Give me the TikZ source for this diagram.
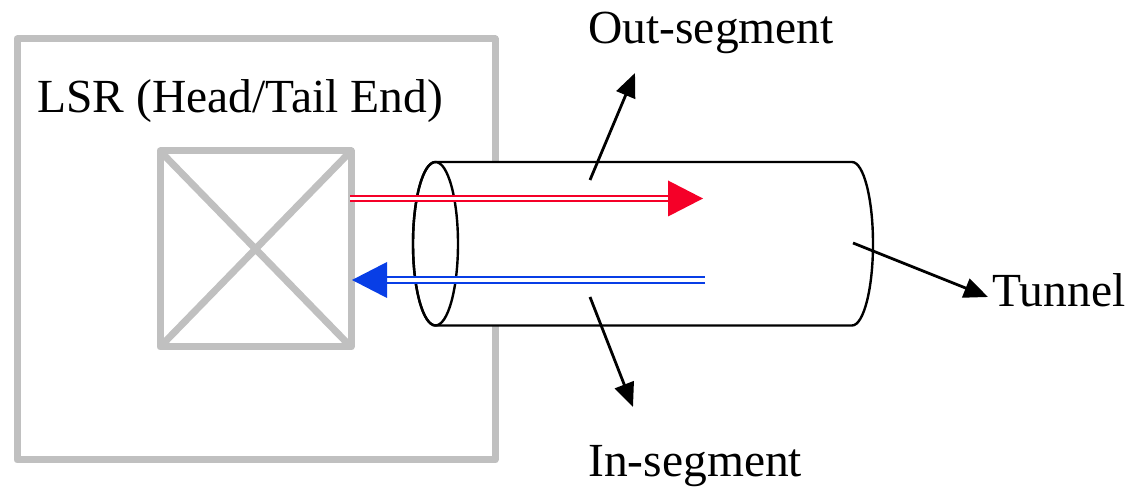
\documentclass[tikz,border=0pt]{standalone}
\usepackage{fontspec}
\setmainfont{Liberation Serif}
\usetikzlibrary{arrows.meta}
\definecolor{boxgray}{RGB}{192,192,192}
\definecolor{outred}{RGB}{245,0,40}
\definecolor{inblue}{RGB}{8,62,230}
\begin{document}
\begin{tikzpicture}[x=0.5pt,y=-0.5pt,
  graybox/.style={draw=boxgray,line width=3.5pt,line join=round},
  tube/.style={draw=black,line width=1.2pt},
  pointer/.style={draw=black,line width=1.4pt,-{Triangle[length=12pt,width=10pt]}},
  lbl/.style={font=\fontsize{23.75}{28}\selectfont,inner sep=0pt},
  dline/.style={line width=1pt,double=white,double distance=1.6pt}]
\useasboundingbox (0,0) rectangle (1141,490);
% LSR boxes
\draw[graybox] (17,39) rectangle (495,460);
\node[lbl,anchor=base west] (lsr) at (37,113) {LSR (Head/Tail End)};
\draw[graybox] (160,151) rectangle (351,347);
\coordinate (sw) at (160,347); \coordinate (ne) at (351,151);
\coordinate (nw) at (160,151); \coordinate (se) at (351,347);
\draw[draw=boxgray,line width=3.5pt] (nw) -- (se) (sw) -- (ne);
% tunnel cylinder
\coordinate (tl) at (435.5,162);
\coordinate (tr) at (852,162);
\coordinate (bl) at (435.5,325.5);
\filldraw[tube,fill=white] (tl) -- (tr) arc[start angle=-90,end angle=90,x radius=21,y radius=81.75] -- (bl)
  arc[start angle=90,end angle=270,x radius=22.5,y radius=81.75];
\draw[tube] (435.5,243.75) ellipse[x radius=22.5,y radius=81.75];
% out arrow (red)
\coordinate (rs) at (350,198.5);
\coordinate (rb) at (670,198.5);
\coordinate (rt) at (703,198.5);
\draw[dline,draw=outred] (rs) -- (rb);
\fill[outred] (rt) -- (668,180.5) -- (668,216.5) -- cycle;
% in arrow (blue)
\coordinate (bs) at (705,280);
\coordinate (bb) at (385,280);
\coordinate (bt) at (352,280);
\draw[dline,draw=inblue] (bs) -- (bb);
\fill[inblue] (bt) -- (387,262) -- (387,298) -- cycle;
% labels
\node[lbl,anchor=base west] (out) at (588,44) {Out-segment};
\node[lbl,anchor=base west] (in) at (588,477) {In-segment};
\node[lbl,anchor=base west] (tun) at (992,307) {Tunnel};
\coordinate (o1) at (590,180); \coordinate (o2) at (635,73);
\coordinate (i1) at (590,297); \coordinate (i2) at (633,407);
\coordinate (t1) at (853,243); \coordinate (t2) at (988,297);
\draw[pointer] (o1) -- (o2);
\draw[pointer] (i1) -- (i2);
\draw[pointer] (t1) -- (t2);
\end{tikzpicture}
\end{document}
